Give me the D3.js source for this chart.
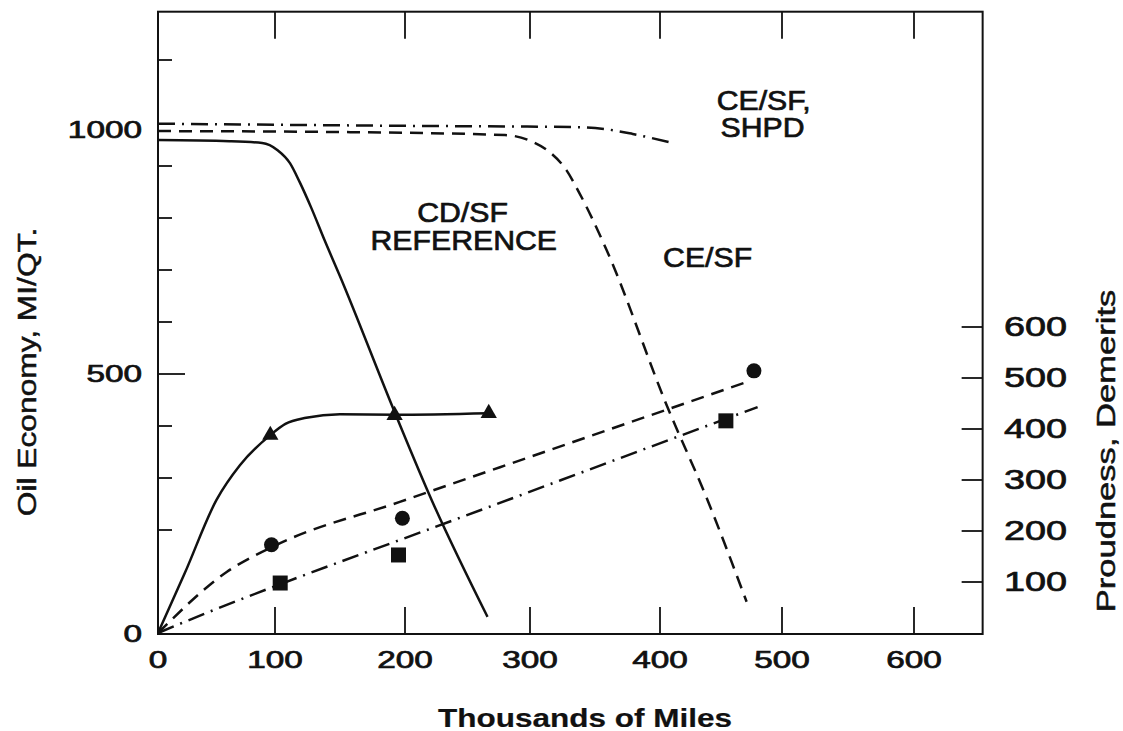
<!DOCTYPE html>
<html>
<head>
<meta charset="utf-8">
<script src="https://cdn.jsdelivr.net/npm/d3@7"></script>
<style>
  body { margin: 0; background: #fff; }
  text { font-family: "Liberation Sans", Arial, sans-serif; fill: #111; }
</style>
</head>
<body>
<svg id="chart" width="1123" height="731"></svg>
<script>
// Tick values / labels
const xTicks = [100, 200, 300, 400, 500, 600];
const xLabels = [0, 100, 200, 300, 400, 500, 600];
const leftMinorTicks = [200, 300, 400, 600, 700, 800, 900, 1100];
const leftMajorTicks = [500];
const leftLabels = [0, 500, 1000];
const rightTicks = [100, 200, 300, 400, 500, 600];

// Oil economy curves (left axis, MI/QT)
const cdsfRef = [[0, 972], [61, 969], [89, 964], [102, 944], [111.5, 908], [119, 869], [128, 819], [138, 758], [150, 688], [192, 427], [222, 254], [266, 33]];
const cesf = [[0, 997], [158, 994], [280, 986], [302, 967], [315, 939], [328, 892], [338, 848], [359, 738], [406, 437], [438, 263], [471, 62]];
const cesfShpd = [[0, 1009], [195, 1006], [338, 1004], [359, 1001], [379, 989], [410, 964]];

// Proudness curves (right axis, demerits)
const triLine = [[0, 0], [23, 118], [50, 261], [70, 329], [96, 388], [108, 410], [124, 422], [150, 429], [192, 428], [267, 431]];
const triPts = [[96, 388], [192, 427], [267, 431]];
const circLine = [[0, 0], [59, 120], [104, 176], [196, 257], [276, 325], [471, 492]];
const circPts = [[97, 173], [198, 225], [477, 514]];
const sqLine = [[0, 0], [40, 38], [98, 90], [222, 206], [418, 388], [480, 443]];
const sqPts = [[104, 98], [195, 153], [454, 416]];

// In-plot labels (x in miles, y in MI/QT)
const notes = [
    {text: "CD/SF", x: 246, y: 792},
    {text: "REFERENCE", x: 247, y: 738},
    {text: "CE/SF", x: 439, y: 705},
    {text: "CE/SF,", x: 485, y: 1029},
    {text: "SHPD", x: 484, y: 981}
];

const svg = d3.select("#chart");

// scales follow the tick spacing of the original sheet
const x = d3.scaleLinear()
    .domain([0, 100, 200, 300, 400, 500, 600])
    .range([158, 275, 405, 530, 660, 782, 914]);
const yL = d3.scaleLinear()
    .domain([0, 900, 1000, 1100])
    .range([634, 166, 130, 60]);
const yR = d3.scaleLinear()
    .domain([0, 600])
    .range([633, 327]);

const xMax = 652, yTopVal = 1169;
const frameL = x(0), frameR = x(xMax), frameT = yL(yTopVal), frameB = yL(0);

// stretched text (the sheet uses an extended face)
function label(parent, px, py, str, o) {
    const g = parent.append("g")
        .attr("transform", `translate(${px},${py}) rotate(${o.rot || 0}) scale(${o.sx || 1},1)`);
    g.append("text")
        .attr("text-anchor", o.anchor || "middle")
        .attr("dominant-baseline", o.base || "auto")
        .attr("font-size", o.size)
        .attr("font-weight", o.weight || "normal")
        .style("stroke", "#111")
        .style("stroke-width", o.stroke || 0.7)
        .text(str);
}

// Frame
svg.append("rect")
    .attr("x", frameL).attr("y", frameT)
    .attr("width", frameR - frameL).attr("height", frameB - frameT)
    .attr("fill", "none").attr("stroke", "#111").attr("stroke-width", 2);

// Ticks
const tickG = svg.append("g").attr("stroke", "#111").attr("stroke-width", 1.8);
tickG.selectAll(".tb").data(xTicks).enter().append("line")
    .attr("x1", d => x(d)).attr("x2", d => x(d))
    .attr("y1", frameB).attr("y2", frameB - 27);
tickG.selectAll(".tt").data(xTicks).enter().append("line")
    .attr("x1", d => x(d)).attr("x2", d => x(d))
    .attr("y1", frameT).attr("y2", frameT + 27);
tickG.selectAll(".tl").data(leftMinorTicks).enter().append("line")
    .attr("x1", frameL).attr("x2", frameL + 14)
    .attr("y1", d => yL(d)).attr("y2", d => yL(d));
tickG.selectAll(".tL").data(leftMajorTicks).enter().append("line")
    .attr("x1", frameL).attr("x2", frameL + 27)
    .attr("y1", d => yL(d)).attr("y2", d => yL(d));
tickG.selectAll(".tr").data(rightTicks).enter().append("line")
    .attr("x1", frameR).attr("x2", frameR - 21)
    .attr("y1", d => yR(d)).attr("y2", d => yR(d));

// Tick labels
const labG = svg.append("g");
xLabels.forEach(v => label(labG, x(v), 668, v, {size: 23, sx: 1.45}));
leftLabels.forEach(v => label(labG, 142, yL(v), v, {size: 23, sx: 1.45, anchor: "end", base: "central"}));
rightTicks.forEach(v => label(labG, 1067, yR(v), v, {size: 27, sx: 1.4, anchor: "end", base: "central"}));

// Axis titles
label(svg, 585, 727, "Thousands of Miles", {size: 25, sx: 1.26, weight: "bold", stroke: 0.2});
label(svg, 27, 372, "Oil Economy, MI/QT.", {size: 26, sx: 1.22, rot: -90, base: "central", stroke: 0.5});
label(svg, 1106, 451, "Proudness, Demerits", {size: 26, sx: 1.33, rot: -90, base: "central", stroke: 0.5});

// Curves
const lineL = d3.line().x(d => x(d[0])).y(d => yL(d[1])).curve(d3.curveMonotoneX);
const lineR = d3.line().x(d => x(d[0])).y(d => yR(d[1])).curve(d3.curveMonotoneX);

const curveG = svg.append("g").attr("fill", "none").attr("stroke", "#111").attr("stroke-width", 2.5);
curveG.append("path").attr("d", lineL(cdsfRef));
curveG.append("path").attr("d", lineL(cesf)).attr("stroke-dasharray", "13,8");
curveG.append("path").attr("d", lineL(cesfShpd)).attr("stroke-dasharray", "17,7,2,7");
curveG.append("path").attr("d", lineR(triLine));
curveG.append("path").attr("d", lineR(circLine)).attr("stroke-dasharray", "13,8");
curveG.append("path").attr("d", lineR(sqLine)).attr("stroke-dasharray", "17,7,2,7");

// Markers
const markG = svg.append("g").attr("fill", "#111");
markG.selectAll(".tri").data(triPts).enter().append("path")
    .attr("d", d3.symbol().type(d3.symbolTriangle).size(115))
    .attr("transform", d => `translate(${x(d[0])},${yR(d[1])})`);
markG.selectAll(".circ").data(circPts).enter().append("circle")
    .attr("r", 7.5)
    .attr("cx", d => x(d[0])).attr("cy", d => yR(d[1]));
markG.selectAll(".sq").data(sqPts).enter().append("path")
    .attr("d", d3.symbol().type(d3.symbolSquare).size(225))
    .attr("transform", d => `translate(${x(d[0])},${yR(d[1])})`);

// In-plot labels
notes.forEach(n => label(svg, x(n.x), yL(n.y), n.text, {size: 27, sx: 1.12}));
</script>
</body>
</html>
